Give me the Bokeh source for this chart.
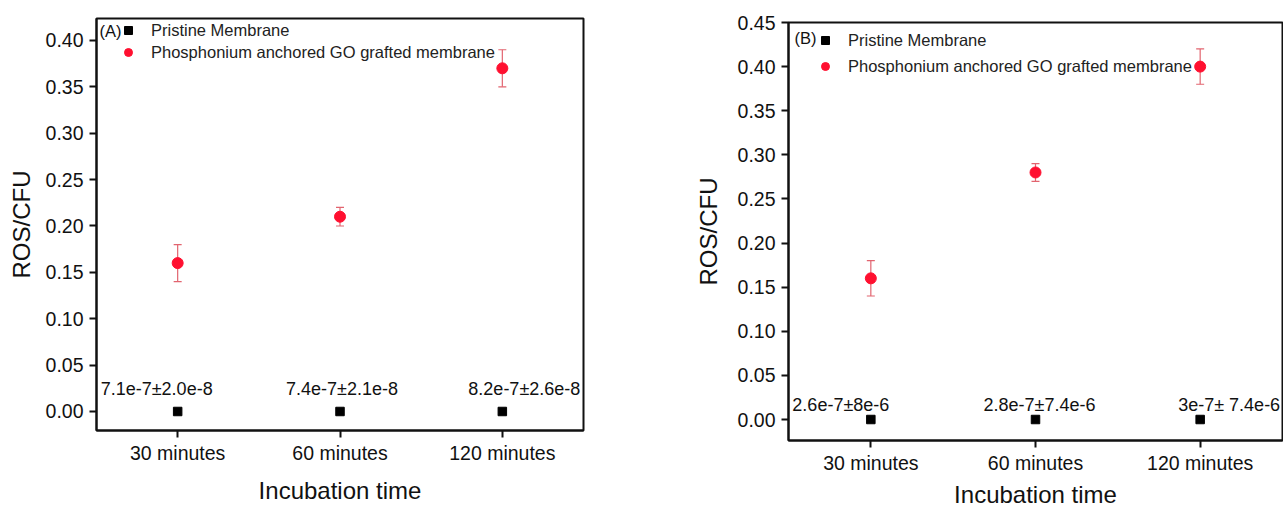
from bokeh.plotting import figure
from bokeh.models import (ColumnDataSource, Whisker, TeeHead, LabelSet, Label, Legend,
                          LegendItem, FixedTicker, NumeralTickFormatter, FactorRange, Range1d)
from bokeh.core.properties import value
from bokeh.layouts import row, column
from bokeh.embed import file_html
from bokeh.resources import INLINE

# ---------------- data ----------------
categories = ["30 minutes", "60 minutes", "120 minutes"]

a_pristine = [7.1e-7, 7.4e-7, 8.2e-7]
a_pristine_labels = ["7.1e-7\u00b12.0e-8", "7.4e-7\u00b12.1e-8", "8.2e-7\u00b12.6e-8"]
a_go = [0.16, 0.21, 0.37]
a_go_err = [0.02, 0.01, 0.02]

b_pristine = [2.6e-7, 2.8e-7, 3e-7]
b_pristine_labels = ["2.6e-7\u00b18e-6", "2.8e-7\u00b17.4e-6", "3e-7\u00b1 7.4e-6"]
b_go = [0.16, 0.28, 0.40]
b_go_err = [0.02, 0.01, 0.02]

a_yticks = [0.0, 0.05, 0.10, 0.15, 0.20, 0.25, 0.30, 0.35, 0.40]
b_yticks = [0.0, 0.05, 0.10, 0.15, 0.20, 0.25, 0.30, 0.35, 0.40, 0.45]

x_title = "Incubation time"
y_title = "ROS/CFU"

# label placement (screen px offsets, layout only)
a_label_dx = [-21, 2, 22]
b_label_dx = [-30, 4, 29]

FONT = "Liberation Sans"
RED = "#ff1030"
ERR = "#e2646f"


def make_panel(tag, pristine, labels, go, go_err, yticks, yr, label_dx, label_dy,
               width, height, borders, leg_loc, leg_spacing, tag_off,
               ylabel_standoff, xlabel_standoff):
    p = figure(x_range=FactorRange(*categories), y_range=Range1d(*yr),
               width=width, height=height, output_backend="svg", toolbar_location=None,
               min_border_left=borders[0], min_border_right=borders[1],
               min_border_top=borders[2], min_border_bottom=borders[3])
    p.grid.visible = False
    p.outline_line_color = "#111111"
    p.outline_line_width = 2
    p.outline_line_alpha = 1.0
    p.background_fill_color = "white"
    p.border_fill_color = "white"

    for ax in (p.xaxis[0], p.yaxis[0]):
        ax.axis_line_width = 2
        ax.axis_line_color = "#111111"
        ax.major_tick_line_width = 2
        ax.major_tick_line_color = "#111111"
        ax.major_tick_out = 7
        ax.major_tick_in = 0
        ax.minor_tick_line_color = None
        ax.major_label_text_font = FONT
        ax.major_label_text_font_size = "19.5px"
        ax.major_label_text_color = "#111111"
        ax.axis_label_text_font = FONT
        ax.axis_label_text_font_size = "24px"
        ax.axis_label_text_font_style = "normal"
        ax.axis_label_text_color = "#111111"

    p.xaxis.major_label_standoff = 4
    p.yaxis.major_label_standoff = 6
    p.yaxis.axis_label = y_title
    p.xaxis.axis_label = x_title
    p.yaxis.ticker = FixedTicker(ticks=yticks)
    p.yaxis.formatter = NumeralTickFormatter(format="0.00")
    p.yaxis.axis_label_standoff = ylabel_standoff
    p.xaxis.axis_label_standoff = xlabel_standoff

    go_src = ColumnDataSource(dict(
        x=categories, y=go,
        upper=[v + e for v, e in zip(go, go_err)],
        lower=[v - e for v, e in zip(go, go_err)]))
    pr_src = ColumnDataSource(dict(x=categories, y=pristine, text=labels, dx=label_dx))

    w = Whisker(source=go_src, base="x", upper="upper", lower="lower",
                line_color=ERR, line_width=1.2,
                upper_head=TeeHead(size=8, line_color=ERR, line_width=1.2),
                lower_head=TeeHead(size=8, line_color=ERR, line_width=1.2))
    p.add_layout(w)

    r_sq = p.scatter("x", "y", source=pr_src, marker="square", size=8.5,
                     fill_color="black", line_color="black")
    r_go = p.scatter("x", "y", source=go_src, marker="circle", size=11,
                     fill_color=RED, line_color=RED)

    ls = LabelSet(source=pr_src, x="x", y="y", text="text", x_offset="dx", y_offset=label_dy,
                  text_align="center", text_baseline="middle", text_font=value(FONT),
                  text_font_size="18px", text_color="#111111")
    p.add_layout(ls)

    legend = Legend(items=[LegendItem(label="Pristine Membrane", renderers=[r_sq]),
                           LegendItem(label="Phosphonium anchored GO grafted membrane",
                                      renderers=[r_go])],
                    location=leg_loc, padding=0, margin=0, spacing=leg_spacing,
                    label_standoff=13, glyph_width=20, glyph_height=20, label_height=20,
                    label_text_font=FONT, label_text_font_size="16.5px",
                    label_text_color="#222222",
                    border_line_alpha=0, background_fill_alpha=0)
    p.add_layout(legend)

    p.add_layout(Label(x=0, y=yr[1], x_offset=tag_off[0], y_offset=tag_off[1], text=tag,
                       text_font=FONT, text_font_size="16.5px", text_color="#111111",
                       text_baseline="middle", text_align="left"))
    return p


pa = make_panel("(A)", a_pristine, a_pristine_labels, a_go, a_go_err, a_yticks,
                (-0.0205, 0.4237), a_label_dx, 22, 680, 510, (96, 97, 18, 80),
                (22, 368), 2, (3, -12), 8, 10)
pb = make_panel("(B)", b_pristine, b_pristine_labels, b_go, b_go_err, b_yticks,
                (-0.0238, 0.45), b_label_dx, 15, 603, 510, (108, 1, 22, 70),
                (27, 364), 6, (6, -15), 13, 4)

# each panel in its own column so that the two plot frames are laid out independently
layout = row(column(pa), column(pb))
open("out.html", "w").write(file_html(layout, INLINE))
